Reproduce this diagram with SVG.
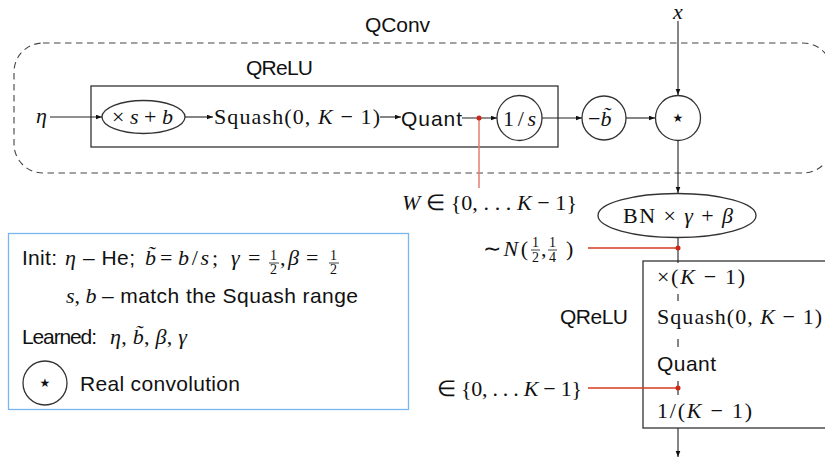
<svg xmlns="http://www.w3.org/2000/svg" width="825" height="461" viewBox="0 0 825 461">
<defs>
<style>
.s{font-family:"Liberation Sans",Arial,sans-serif;font-size:21px;fill:#111}
.m{font-family:"Liberation Serif","Times New Roman",serif;font-size:22px;fill:#111}
.i{font-style:italic}
.sm{font-size:14px}
.ln{stroke:#222;stroke-width:1.1;fill:none}
.bx{stroke:#333;stroke-width:1.3;fill:none}
.rd{stroke:#d63a1e;stroke-width:1.3;fill:none}
.rl{stroke:#e2806f;stroke-width:1.5;fill:none}
.dot{fill:#c8281a}
.star{font-family:"DejaVu Sans",sans-serif;font-size:12px;fill:#111}
.fb{stroke:#111;stroke-width:0.8}
</style>
<marker id="a" markerUnits="userSpaceOnUse" markerWidth="8" markerHeight="6" refX="6.5" refY="2.5" orient="auto"><path d="M0,0 L6.5,2.5 L0,5 z" fill="#111"/></marker>
</defs>
<rect width="825" height="461" fill="#fff"/>

<g id="qconv">
<rect x="14" y="43" width="818" height="130" rx="29" ry="29" fill="none" stroke="#444" stroke-width="1.1" stroke-dasharray="6.5 4.5"/>
<text class="s" x="365" y="32" textLength="65">QConv</text>
</g>

<g id="qrelu-top">
<rect class="bx" x="91" y="86" width="467" height="61"/>
<text class="s" x="246" y="75" font-size="20" textLength="67">QReLU</text>
</g>

<g id="eta"><text class="m i" x="36" y="123">η</text></g>

<g id="scale">
<ellipse cx="143.5" cy="117" rx="41.5" ry="16.5" class="bx"/>
<text class="m" x="112" y="124" textLength="61">×<tspan class="i">s</tspan>+<tspan class="i">b</tspan></text>
</g>

<g id="squash-top"><text class="m" x="214" y="124" textLength="166">Squash(0, <tspan class="i">K</tspan> − 1)</text></g>

<g id="quant-top"><text class="s" x="401" y="126" textLength="61">Quant</text></g>

<g id="inv-s">
<circle cx="519.5" cy="118" r="22.5" class="bx"/>
<text class="m" x="503" y="126" textLength="33">1/<tspan class="i">s</tspan></text>
</g>

<g id="minus-b">
<circle cx="604" cy="118" r="22" class="bx"/>
<text class="m" x="588" y="126">−<tspan class="i">b̃</tspan></text>
</g>

<g id="conv">
<circle cx="678" cy="118" r="22.5" class="bx"/>
<text class="star" x="678" y="122" text-anchor="middle">★</text>
</g>

<g id="x-in"><text class="m i" x="673" y="19" font-size="20">x</text></g>

<g id="w-label"><text class="m" x="402" y="210" textLength="175"><tspan class="i">W</tspan> ∈ {0, . . . <tspan class="i">K</tspan> − 1}</text></g>

<g id="bn">
<ellipse cx="677" cy="215.5" rx="79" ry="22" class="bx"/>
<text class="m" x="623" y="223" textLength="110">BN × <tspan class="i">γ</tspan> + <tspan class="i">β</tspan></text>
</g>

<g id="normal-label">
<text class="m" x="483" y="256" textLength="45">∼<tspan class="i">N</tspan>(</text>
<text class="m sm" x="532" y="247">1</text>
<text class="m sm" x="532" y="262">2</text>
<line class="fb" x1="531" y1="250" x2="540" y2="250"/>
<text class="m" x="541" y="256">,</text>
<text class="m sm" x="549" y="247">1</text>
<text class="m sm" x="549" y="262">4</text>
<line class="fb" x1="548" y1="250" x2="557" y2="250"/>
<text class="m" x="566" y="256">)</text>
</g>

<g id="qrelu-right">
<rect class="bx" x="643" y="261" width="200" height="167"/>
<text class="s" x="560" y="324" textLength="68">QReLU</text>
<text class="m" x="657" y="284" textLength="88">×(<tspan class="i">K</tspan> − 1)</text>
<text class="m" x="657" y="324" textLength="165">Squash(0, <tspan class="i">K</tspan> − 1)</text>
<text class="s" x="657" y="371" textLength="59">Quant</text>
<text class="m" x="657" y="418" textLength="95">1/(<tspan class="i">K</tspan> − 1)</text>
</g>

<g id="in-label"><text class="m" x="437" y="396" textLength="145">∈ {0, . . . <tspan class="i">K</tspan> − 1}</text></g>

<g id="legend">
<rect x="8.5" y="233.5" width="400" height="176" fill="none" stroke="#7ab6ee" stroke-width="1.3"/>
<text class="s" x="22" y="265" font-size="22" textLength="35">Init:</text>
<text class="m i" x="65" y="265">η</text>
<text class="s" x="83" y="265" font-size="22" textLength="52">– He;</text>
<text class="m i" x="145" y="265">b̃</text>
<text class="m" x="160" y="265">=</text>
<text class="m" x="178" y="265" textLength="40"><tspan class="i">b</tspan>/<tspan class="i">s</tspan>;</text>
<text class="m i" x="231" y="265">γ</text>
<text class="m" x="248" y="265">=</text>
<text class="m sm" x="270" y="260">1</text>
<text class="m sm" x="270" y="274">2</text>
<line class="fb" x1="269" y1="263" x2="279" y2="263"/>
<text class="m" x="280" y="265">,</text>
<text class="m i" x="288" y="265">β</text>
<text class="m" x="306" y="265">=</text>
<text class="m sm" x="330" y="260">1</text>
<text class="m sm" x="330" y="274">2</text>
<line class="fb" x1="329" y1="263" x2="339" y2="263"/>
<text class="m i" x="66" y="303" font-size="21">s<tspan font-style="normal">,</tspan> b</text>
<text class="s" x="102" y="303" font-size="22" textLength="256">– match the Squash range</text>
<text class="s" x="22" y="344" font-size="22" textLength="75">Learned:</text>
<text class="m" x="110" y="344" textLength="77"><tspan class="i">η</tspan>, <tspan class="i">b̃</tspan>, <tspan class="i">β</tspan>, <tspan class="i">γ</tspan></text>
<circle cx="45" cy="383" r="22" class="bx"/>
<text class="star" x="45" y="387" text-anchor="middle">★</text>
<text class="s" x="80" y="391" font-size="22" textLength="160">Real convolution</text>
</g>

<g id="connectors">
<path class="ln" d="M50,117 H102" marker-end="url(#a)"/>
<path class="ln" d="M185,117 H213" marker-end="url(#a)"/>
<path class="ln" d="M380,117 H401" marker-end="url(#a)"/>
<path class="ln" d="M462,118 H497" marker-end="url(#a)"/>
<path class="ln" d="M542,118 H582" marker-end="url(#a)"/>
<path class="ln" d="M626,118 H655" marker-end="url(#a)"/>
<path class="ln" d="M678,21 V95" marker-end="url(#a)"/>
<path class="ln" d="M678,140.5 V193" marker-end="url(#a)"/>
<path class="ln" d="M678,238 V263 M678,294 V301 M678,339 V347 M678,381 V395"/>
<path class="ln" d="M678,428 V457" marker-end="url(#a)"/>
<path class="rl" d="M479,118 V188"/>
<path class="rd" d="M588,248 H678"/>
<path class="rd" d="M588,388 H678"/>
<circle class="dot" cx="479" cy="118" r="2.5"/>
<circle class="dot" cx="678" cy="248" r="2.5"/>
<circle class="dot" cx="678" cy="388" r="2.5"/>
</g>
</svg>
